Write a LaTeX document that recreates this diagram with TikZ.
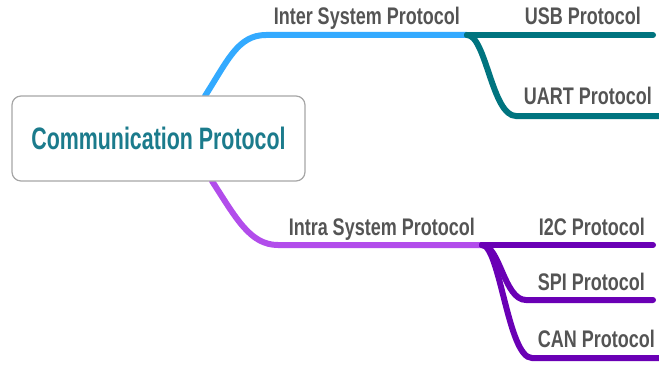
\documentclass[tikz,border=0pt]{standalone}
\usepackage{fontspec}
\setmainfont{Liberation Sans}[FakeStretch=0.75]
\newfontfamily\rootfont{Liberation Sans}[FakeStretch=0.69]
\begin{document}
\begin{tikzpicture}[x=1pt,y=-1pt,
  lbl/.style={inner sep=0pt, anchor=base east, text=black!67, font=\bfseries\fontsize{24}{24}\selectfont},
  branch/.style={line width=6pt, line cap=round},
  root/.style={draw=black!35, line width=1.2pt, rounded corners=9pt, fill=white,
    minimum width=293pt, minimum height=85pt, inner sep=0pt,
    text=rootteal, font=\rootfont\bfseries\fontsize{31}{31}\selectfont}]
\definecolor{rootteal}{HTML}{1B7B8C}
\definecolor{interblue}{HTML}{33AAFF}
\definecolor{interteal}{HTML}{00747F}
\definecolor{intrapurple}{HTML}{B24DEB}
\definecolor{intradark}{HTML}{6A00B5}
\useasboundingbox (0,0) rectangle (659,369);

% branch points
\coordinate (interA) at (205,96);
\coordinate (interJ) at (467,35);
\coordinate (intraA) at (212,181);
\coordinate (intraJ) at (482,245);
\coordinate (usbE) at (653,35);
\coordinate (uartE) at (668,116);
\coordinate (i2cE) at (653,245);
\coordinate (spiE) at (653,300);
\coordinate (canE) at (668,358);

% first level
\draw[branch, interblue] (interA) .. controls (228,60) and (238,35) .. (266,35) -- (interJ);
\draw[branch, intrapurple] (intraA) .. controls (236,218) and (250,245) .. (278,245) -- (intraJ);

% second level
\draw[branch, interteal] (interJ) -- (usbE);
\draw[branch, interteal] (interJ) .. controls (486,35) and (492,116) .. (516,116) -- (uartE);
\draw[branch, intradark] (intraJ) -- (i2cE);
\draw[branch, intradark] (intraJ) .. controls (500,245) and (504,300) .. (526,300) -- (spiE);
\draw[branch, intradark] (intraJ) .. controls (500,245) and (508,358) .. (532,358) -- (canE);

\node[root] (comm) at (158.5,138.5) {Communication Protocol};

\node[lbl] (inter) at (460,25) {Inter System Protocol};
\node[lbl] (intra) at (475,235) {Intra System Protocol};
\node[lbl] (usb) at (641,25) {USB Protocol};
\node[lbl] (uart) at (652,104) {UART Protocol};
\node[lbl] (i2c) at (645,235) {I2C Protocol};
\node[lbl] (spi) at (645,290) {SPI Protocol};
\node[lbl] (can) at (655,347) {CAN Protocol};
\end{tikzpicture}
\end{document}
